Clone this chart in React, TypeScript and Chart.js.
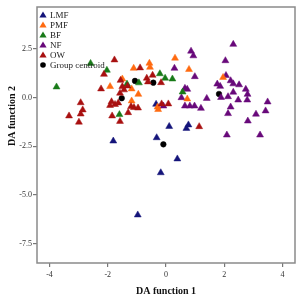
import React, { useEffect, useRef } from "react";
import { Chart, registerables } from "chart.js";

Chart.register(...registerables);

// ---- Data (DA function 1, DA function 2) ----
const lmfPoints: [number, number][] = [
  [-0.34, -0.34], [0.11, -1.48], [-1.81, -2.23], [-0.32, -2.06], [0.77, -1.4],
  [0.7, -1.58], [0.39, -3.15], [-0.18, -3.86], [-0.97, -6.03],
];
const pmfPoints: [number, number][] = [
  [-0.57, 1.77], [-0.55, 1.56], [-1.11, 1.51], [0.31, 2.03], [0.79, 1.45],
  [1.96, 1.04], [-1.92, 0.57], [-1.5, 0.96], [-1.18, 0.45], [-0.95, 0.17],
  [-1.18, -0.17], [-0.29, -0.48], [-0.27, -0.61], [0.73, -0.07],
];
const bfPoints: [number, number][] = [
  [-2.59, 1.76], [-2.03, 1.41], [-0.21, 1.23], [-0.03, 1.0], [0.22, 0.96],
  [-1.34, 0.7], [-0.93, 0.76], [-3.76, 0.55], [-1.6, -0.87], [0.57, 0.29],
];
const nfPoints: [number, number][] = [
  [2.31, 2.74], [0.86, 2.39], [0.94, 2.15], [2.04, 1.9], [0.29, 1.51],
  [0.99, 1.08], [2.06, 1.14], [2.22, 0.87], [2.31, 0.71], [2.51, 0.66],
  [1.76, 0.7], [1.86, 0.58], [2.74, 0.43], [2.8, 0.17], [2.31, 0.28],
  [2.13, 0.05], [1.89, 0.01], [1.4, -0.04], [0.65, 0.48], [0.73, 0.43],
  [0.53, 0.0], [0.65, -0.43], [0.82, -0.43], [0.98, -0.43], [1.2, -0.55],
  [2.22, -0.48], [2.48, -0.12], [2.79, -0.12], [3.49, -0.22], [2.13, -0.82],
  [3.09, -0.85], [3.42, -0.68], [2.81, -1.2], [2.09, -1.92], [3.23, -1.92],
  [-0.09, -0.43],
];
const owPoints: [number, number][] = [
  [-1.77, 1.94], [-0.89, 1.53], [-2.13, 1.2], [-1.56, 0.89], [-0.66, 1.0],
  [-0.46, 1.15], [-0.17, 0.77], [-2.23, 0.45], [-1.5, 0.57], [-1.58, 0.23],
  [-1.44, 0.4], [-2.93, -0.26], [-1.87, -0.21], [-1.75, -0.35], [-1.92, -0.4],
  [-1.64, -0.27], [-2.86, -0.63], [-2.93, -0.84], [-3.33, -0.94], [-2.99, -1.26],
  [-1.85, -0.94], [-1.58, -1.22], [-1.3, -0.77], [-1.2, -0.46], [-1.1, -0.51],
  [-0.96, -0.53], [-0.15, -0.32], [0.08, -0.32], [1.14, -1.49], [-1.32, 0.6],
  [-0.62, 0.81],
];
const centroidPoints: [number, number][] = [
  [-1.065, 0.86], [-0.436, 0.77], [-1.52, -0.03], [-0.09, -2.4], [1.82, 0.19],
];

const xTicks = [-4, -2, 0, 2, 4];
const yTicks = [2.5, 0.0, -2.5, -5.0, -7.5];
const xRange = [-4.43, 4.43];
const yRange = [-8.5, 4.66];

const groupNames = ["LMF", "PMF", "BF", "NF", "OW", "Group centroid"];
const groupColors = ["#14147a", "#ff6a10", "#187a18", "#68097a", "#a81010", "#000000"];

const SERIF = "'Liberation Serif', 'Times New Roman', serif";

export default function App() {
  const canvasRef = useRef<HTMLCanvasElement | null>(null);

  useEffect(() => {
    document.body.style.margin = "0";
    document.body.style.background = "#ffffff";
    const canvas = canvasRef.current;
    if (!canvas) return;

    const toPts = (arr: [number, number][]) => arr.map(([x, y]) => ({ x, y }));
    const allGroups = [lmfPoints, pmfPoints, bfPoints, nfPoints, owPoints, centroidPoints];

    const datasets = allGroups.map((g, i) => ({
      label: groupNames[i],
      data: toPts(g),
      pointStyle: i === 5 ? "circle" : "triangle",
      pointRadius: i === 5 ? 2.8 : 4,
      backgroundColor: groupColors[i],
      borderColor: groupColors[i],
      borderWidth: 0.5,
      showLine: false,
    }));
    const ordered = [datasets[4], datasets[2], datasets[1], datasets[3], datasets[0], datasets[5]];

    const framePlugin = {
      id: "frameLegend",
      afterDraw(chart: any) {
        const { ctx, chartArea } = chart;
        const { left, right, top, bottom } = chartArea;
        ctx.save();
        ctx.strokeStyle = "#8a8a8a";
        ctx.lineWidth = 1.5;
        ctx.strokeRect(left, top, right - left, bottom - top);

        // legend
        const lx = 43;
        const tx = 50;
        ctx.font = `9px ${SERIF}`;
        ctx.textBaseline = "middle";
        ctx.textAlign = "left";
        groupNames.forEach((name, i) => {
          const y = 15 + i * 10;
          ctx.fillStyle = groupColors[i];
          if (i === 5) {
            ctx.beginPath();
            ctx.arc(lx, y, 2.8, 0, Math.PI * 2);
            ctx.fill();
          } else {
            ctx.beginPath();
            ctx.moveTo(lx, y - 3.5);
            ctx.lineTo(lx + 3.6, y + 2.6);
            ctx.lineTo(lx - 3.6, y + 2.6);
            ctx.closePath();
            ctx.fill();
          }
          ctx.fillStyle = "#222";
          ctx.fillText(name, tx, y + 0.5);
        });

        // axis titles
        ctx.fillStyle = "#111";
        ctx.font = `bold 10px ${SERIF}`;
        ctx.textAlign = "center";
        ctx.textBaseline = "middle";
        ctx.fillText("DA function 1", (left + right) / 2, 291);
        ctx.save();
        ctx.translate(12, 116);
        ctx.rotate(-Math.PI / 2);
        ctx.fillText("DA function 2", 0, 0);
        ctx.restore();
        ctx.restore();
      },
    };

    const chart = new Chart(canvas, {
      type: "scatter",
      data: { datasets: ordered as any },
      options: {
        animation: false,
        responsive: false,
        devicePixelRatio: 1,
        layout: { padding: { left: 0, top: 7, right: 6, bottom: 0 } },
        plugins: { legend: { display: false }, tooltip: { enabled: false } },
        scales: {
          x: {
            type: "linear",
            min: xRange[0],
            max: xRange[1],
            afterBuildTicks: (scale: any) => {
              scale.ticks = xTicks.map((v) => ({ value: v }));
            },
            afterFit: (scale: any) => {
              scale.height = 39;
            },
            ticks: {
              font: { family: SERIF, size: 8 },
              color: "#333",
              padding: 3,
              maxRotation: 0,
              autoSkip: false,
              callback: (v: any) => String(v),
            },
            grid: { display: true, drawOnChartArea: false, tickLength: 4, color: "#777", lineWidth: 1.2 },
            border: { display: false },
          },
          y: {
            type: "linear",
            min: yRange[0],
            max: yRange[1],
            afterBuildTicks: (scale: any) => {
              scale.ticks = yTicks.map((v) => ({ value: v }));
            },
            afterFit: (scale: any) => {
              scale.width = 37;
            },
            ticks: {
              font: { family: SERIF, size: 8 },
              color: "#333",
              padding: 1,
              autoSkip: false,
              callback: (v: any) => Number(v).toFixed(1),
            },
            grid: { display: true, drawOnChartArea: false, tickLength: 4, color: "#777", lineWidth: 1.2 },
            border: { display: false },
          },
        },
      },
      plugins: [framePlugin],
    });

    return () => chart.destroy();
  }, []);

  return (
    <div style={{ width: 301, height: 302, background: "#fff" }}>
      <canvas ref={canvasRef} width={301} height={302} style={{ display: "block" }} />
    </div>
  );
}
